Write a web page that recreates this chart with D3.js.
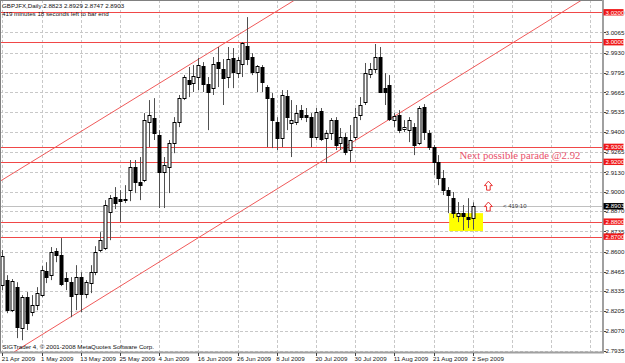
<!DOCTYPE html>
<meta charset="utf-8">
<head>
    <script src="https://cdnjs.cloudflare.com/ajax/libs/d3/7.8.5/d3.min.js"></script>
    <style>
        body {
            margin: 0px;
            padding: 0px;
            background: #fff;
        }

        svg text {
            font-family: 'Liberation Sans', Arial, sans-serif;
        }
    </style>
    <title>GBPJFX Daily</title>
</head>

<body>
    <div id="chart"></div>

    <script>
        // daily bars, 21 Apr 2009 .. 2 Sep 2009
        var opens = [2.8375, 2.8409, 2.8208, 2.8362, 2.8088, 2.8295, 2.8195, 2.8242, 2.8309, 2.8469,
            2.8442, 2.8603, 2.8576, 2.8422, 2.8395, 2.8315, 2.8429, 2.8315, 2.8389, 2.8462,
            2.8610, 2.8623, 2.8864, 2.8964, 2.8951, 2.8944, 2.9011, 2.9165, 2.9064, 2.9078,
            2.9466, 2.9493, 2.9379, 2.9131, 2.9165, 2.9325, 2.9466, 2.9626, 2.9747, 2.9727,
            2.9767, 2.9841, 2.9720, 2.9693, 2.9867, 2.9820, 2.9767, 2.9894, 2.9794, 2.9854,
            2.9974, 2.9901, 2.9800, 2.9834, 2.9700, 2.9626, 2.9466, 2.9359, 2.9640, 2.9459,
            2.9466, 2.9546, 2.9513, 2.9499, 2.9365, 2.9539, 2.9359, 2.9392, 2.9479, 2.9325,
            2.9365, 2.9279, 2.9365, 2.9513, 2.9600, 2.9787, 2.9820, 2.9901, 2.9693, 2.9713,
            2.9479, 2.9513, 2.9419, 2.9412, 2.9432, 2.9325, 2.9566, 2.9392, 2.9299, 2.9198,
            2.9091, 2.9011, 2.8957, 2.8837, 2.8857, 2.8830, 2.8823];
        var highs = [2.8610, 2.8442, 2.8416, 2.8395, 2.8309, 2.8329, 2.8309, 2.8362, 2.8503, 2.8529,
            2.8630, 2.8623, 2.8690, 2.8462, 2.8429, 2.8509, 2.8462, 2.8409, 2.8509, 2.8636,
            2.8730, 2.8944, 2.8978, 2.9031, 2.9011, 2.9044, 2.9212, 2.9212, 2.9232, 2.9526,
            2.9613, 2.9626, 2.9412, 2.9232, 2.9346, 2.9499, 2.9647, 2.9780, 2.9834, 2.9847,
            2.9894, 2.9867, 2.9767, 2.9901, 2.9968, 2.9887, 2.9968, 2.9961, 2.9901, 3.0001,
            3.0168, 2.9927, 2.9847, 2.9847, 2.9713, 2.9660, 2.9499, 2.9680, 2.9680, 2.9613,
            2.9580, 2.9580, 2.9560, 2.9526, 2.9560, 2.9560, 2.9412, 2.9493, 2.9499, 2.9426,
            2.9392, 2.9446, 2.9560, 2.9633, 2.9861, 2.9861, 2.9988, 2.9968, 2.9794, 2.9780,
            2.9526, 2.9546, 2.9479, 2.9499, 2.9459, 2.9573, 2.9586, 2.9412, 2.9312, 2.9245,
            2.9145, 2.9031, 2.8998, 2.8931, 2.8911, 2.8957, 2.8929];
        var lows = [2.8342, 2.8188, 2.8195, 2.8021, 2.8007, 2.8075, 2.8168, 2.8208, 2.8295, 2.8389,
            2.8409, 2.8529, 2.8369, 2.8342, 2.8161, 2.8208, 2.8195, 2.8288, 2.8322, 2.8442,
            2.8596, 2.8610, 2.8676, 2.8884, 2.8797, 2.8924, 2.8937, 2.8991, 2.8944, 2.9064,
            2.9299, 2.9346, 2.8891, 2.8891, 2.8991, 2.9258, 2.9432, 2.9613, 2.9633, 2.9667,
            2.9680, 2.9667, 2.9412, 2.9647, 2.9700, 2.9580, 2.9693, 2.9693, 2.9760, 2.9767,
            2.9847, 2.9780, 2.9667, 2.9667, 2.9299, 2.9292, 2.9279, 2.9299, 2.9412, 2.9232,
            2.9446, 2.9479, 2.9466, 2.9299, 2.9346, 2.9339, 2.9192, 2.9346, 2.9279, 2.9279,
            2.9245, 2.9198, 2.9346, 2.9479, 2.9580, 2.9760, 2.9794, 2.9660, 2.9580, 2.9473,
            2.9432, 2.9392, 2.9399, 2.9332, 2.9245, 2.9312, 2.9346, 2.9279, 2.9111, 2.9044,
            2.8978, 2.8857, 2.8824, 2.8797, 2.8743, 2.8757, 2.8747];
        var closes = [2.8569, 2.8208, 2.8402, 2.8094, 2.8295, 2.8121, 2.8242, 2.8322, 2.8476, 2.8429,
            2.8596, 2.8576, 2.8382, 2.8402, 2.8302, 2.8429, 2.8315, 2.8395, 2.8462, 2.8596,
            2.8676, 2.8911, 2.8957, 2.8924, 2.8937, 2.8951, 2.9165, 2.9064, 2.9044, 2.9479,
            2.9513, 2.9392, 2.9131, 2.9178, 2.9325, 2.9466, 2.9626, 2.9767, 2.9720, 2.9774,
            2.9847, 2.9720, 2.9667, 2.9854, 2.9827, 2.9760, 2.9887, 2.9800, 2.9881, 2.9994,
            2.9887, 2.9800, 2.9840, 2.9734, 2.9626, 2.9479, 2.9359, 2.9647, 2.9499, 2.9479,
            2.9526, 2.9499, 2.9499, 2.9365, 2.9533, 2.9352, 2.9392, 2.9479, 2.9312, 2.9365,
            2.9265, 2.9346, 2.9499, 2.9580, 2.9794, 2.9820, 2.9901, 2.9667, 2.9667, 2.9486,
            2.9506, 2.9412, 2.9432, 2.9479, 2.9312, 2.9560, 2.9399, 2.9299, 2.9198, 2.9091,
            2.9011, 2.8978, 2.8857, 2.8857, 2.8837, 2.8817, 2.8903];

        var dateLabels = ["21 Apr 2009", "1 May 2009", "13 May 2009", "25 May 2009", "4 Jun 2009",
            "16 Jun 2009", "26 Jun 2009", "8 Jul 2009", "20 Jul 2009", "30 Jul 2009",
            "11 Aug 2009", "21 Aug 2009", "2 Sep 2009"];
        var dateStep = 8; // bars between date labels

        var priceTicks = [3.0200, 3.0065, 2.9930, 2.9795, 2.9665, 2.9535, 2.9400, 2.9265, 2.9130,
            2.9000, 2.8870, 2.8735, 2.8600, 2.8465, 2.8335, 2.8205, 2.8070, 2.7935];

        // horizontal levels drawn on the chart
        var levels = [3.0200, 3.0000, 2.9300, 2.9200, 2.8800, 2.8700];
        var bid = 2.8903;

        // trend lines: [bar1, price1, bar2, price2]
        var trendLines = [[10, 2.9281, 50, 3.0087], [4, 2.7961, 90, 2.9708]];

        // highlight box: [bar1, price1, bar2, price2]
        var box = [91.2, 2.8857, 98.1, 2.8737];
        // arrows: [bar, price]
        var arrows = [[99.2, 2.9071], [99.2, 2.8931]];

        var titleText = "GBPJFX,Daily  2.8823 2.8929 2.8747 2.8903";
        var timerText = "419 minutes 18 seconds left to bar end";
        var copyText = "SIGTrader 4, \u00a9 2001-2008 MetaQuotes Software Corp.";
        var noteText = "Next possible parade @2.92";

        var W = 625, H = 363;
        var plotR = 602, plotB = 352;

        var x = d3.scaleLinear().domain([0, 122]).range([2.3, 600.1]);
        var y = d3.scaleLinear().domain([2.7935, 3.02]).range([351, 12.3]);

        var svg = d3.select("#chart").append("svg")
            .attr("width", W)
            .attr("height", H);

        svg.append("defs").append("clipPath").attr("id", "plot")
            .append("rect").attr("x", 0).attr("y", 0).attr("width", plotR).attr("height", plotB);

        var plot = svg.append("g").attr("clip-path", "url(#plot)");

        //grid
        priceTicks.forEach(function (p) {
            plot.append("line")
                .attr("x1", 0).attr("x2", plotR)
                .attr("y1", Math.round(y(p)) + 0.5).attr("y2", Math.round(y(p)) + 0.5)
                .attr("stroke", "#c8c8c8")
                .attr("stroke-dasharray", "3,2");
        });
        for (var g = 0; x(g) < plotR; g += dateStep) {
            plot.append("line")
                .attr("x1", Math.round(x(g)) + 0.5).attr("x2", Math.round(x(g)) + 0.5)
                .attr("y1", 0).attr("y2", plotB)
                .attr("stroke", "#c8c8c8")
                .attr("stroke-dasharray", "3,2");
        }

        //bid line
        plot.append("line")
            .attr("x1", 0).attr("x2", plotR)
            .attr("y1", Math.round(y(bid)) + 0.5).attr("y2", Math.round(y(bid)) + 0.5)
            .attr("stroke", "#c0c0c0");

        //red levels
        levels.forEach(function (p) {
            plot.append("line")
                .attr("x1", 0).attr("x2", plotR)
                .attr("y1", Math.round(y(p)) + 0.5).attr("y2", Math.round(y(p)) + 0.5)
                .attr("stroke", "#f04848");
        });

        //trend lines, extended over the whole chart
        trendLines.forEach(function (t) {
            var slope = (t[3] - t[1]) / (t[2] - t[0]);
            var a = -5, b = 130;
            plot.append("line")
                .attr("x1", x(a)).attr("y1", y(t[1] + slope * (a - t[0])))
                .attr("x2", x(b)).attr("y2", y(t[1] + slope * (b - t[0])))
                .attr("stroke", "#f05a5a");
        });

        //yellow box
        plot.append("rect")
            .attr("x", x(box[0])).attr("y", y(box[1]))
            .attr("width", x(box[2]) - x(box[0]))
            .attr("height", y(box[3]) - y(box[1]))
            .attr("fill", "#ffff00");

        //candles
        var bars = plot.append("g");
        closes.forEach(function (c, i) {
            var cx = Math.round(x(i)) + 0.5;
            bars.append("line")
                .attr("x1", cx).attr("x2", cx)
                .attr("y1", y(highs[i])).attr("y2", y(lows[i]))
                .attr("stroke", "#505050");
            var top = Math.min(y(opens[i]), y(c));
            var h = Math.max(Math.abs(y(opens[i]) - y(c)), 1);
            bars.append("rect")
                .attr("x", cx - 1.5).attr("width", 3)
                .attr("y", Math.round(top) + 0.5).attr("height", Math.round(h))
                .attr("fill", c >= opens[i] ? "#fff" : "#000")
                .attr("stroke", "#000");
        });

        //arrows
        arrows.forEach(function (a) {
            var ax = x(a[0]), ay = y(a[1]);
            plot.append("path")
                .attr("d", "M" + ax + "," + ay + " l4,4.5 h-2.2 v4.5 h-3.6 v-4.5 h-2.2 z")
                .attr("fill", "#fff")
                .attr("stroke", "#e83030");
        });

        plot.append("text")
            .attr("x", 503).attr("y", y(bid) + 2)
            .attr("font-family", "'DejaVu Sans Mono', monospace")
            .attr("font-size", "6px")
            .attr("fill", "#404040")
            .text("<  419:10");

        plot.append("text")
            .attr("x", x(93.3)).attr("y", y(2.922))
            .style("font-family", "'Liberation Serif', 'Times New Roman', serif")
            .attr("font-size", "10.7px")
            .attr("fill", "#e8506a")
            .text(noteText);

        //frame
        svg.append("line").attr("x1", 0.5).attr("x2", 0.5).attr("y1", 0).attr("y2", plotB)
            .attr("stroke", "#808080");
        svg.append("line").attr("x1", 0).attr("x2", plotR).attr("y1", 0.5).attr("y2", 0.5)
            .attr("stroke", "#808080");
        svg.append("line").attr("x1", plotR + 1).attr("x2", plotR + 1).attr("y1", 0).attr("y2", plotB + 1)
            .attr("stroke", "#a0a0a0").attr("stroke-width", 2);
        svg.append("line").attr("x1", 0).attr("x2", plotR + 2).attr("y1", plotB + 0.5).attr("y2", plotB + 0.5)
            .attr("stroke", "#a0a0a0").attr("stroke-width", 2);

        //price axis
        var axisG = svg.append("g");
        priceTicks.forEach(function (p) {
            var py = y(p);
            axisG.append("line").attr("x1", plotR + 2).attr("x2", plotR + 4)
                .attr("y1", Math.round(py) + 0.5).attr("y2", Math.round(py) + 0.5)
                .attr("stroke", "#404040");
            axisG.append("text")
                .attr("x", 605.5).attr("y", py + 2.2)
                .attr("font-size", "6.2px")
                .attr("fill", "#202020")
                .text(d3.format(".4f")(p));
        });

        function priceLabel(p, bg) {
            var py = y(p);
            axisG.append("rect")
                .attr("x", 603.5).attr("y", py - 3.2)
                .attr("width", 20).attr("height", 6.4)
                .attr("fill", bg);
            axisG.append("text")
                .attr("x", 605.5).attr("y", py + 2.2)
                .attr("font-size", "6.2px")
                .attr("fill", "#fff")
                .text(d3.format(".4f")(p));
        }
        levels.forEach(function (p) { priceLabel(p, "#f01818"); });
        priceLabel(bid, "#000");

        //date axis
        dateLabels.forEach(function (d, k) {
            var dx = x(k * dateStep);
            svg.append("line")
                .attr("x1", Math.round(dx) + 0.5).attr("x2", Math.round(dx) + 0.5)
                .attr("y1", plotB + 1).attr("y2", plotB + 4)
                .attr("stroke", "#404040");
            svg.append("text")
                .attr("x", dx - 0.5).attr("y", 360.5)
                .attr("font-size", "6.2px")
                .attr("fill", "#202020")
                .text(d);
        });

        //texts
        svg.append("text").attr("x", 2).attr("y", 8)
            .attr("font-size", "6.2px").attr("fill", "#101010").text(titleText);
        svg.append("text").attr("x", 2).attr("y", 15.5)
            .attr("font-size", "6.2px").attr("fill", "#101010").text(timerText);
        svg.append("text").attr("x", 2.5).attr("y", 348.5)
            .attr("font-size", "6.2px").attr("fill", "#101010").text(copyText);
    </script>
</body>
